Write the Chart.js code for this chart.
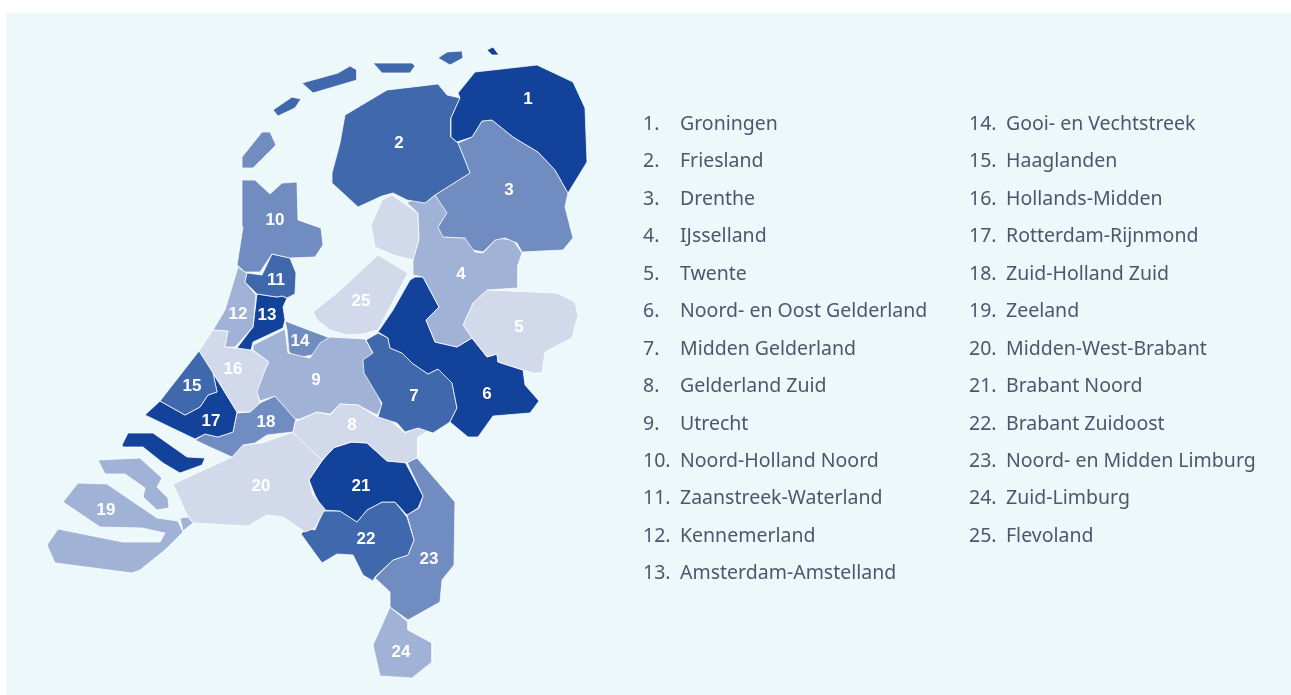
<!DOCTYPE html>
<html lang="nl">
<head>
  <meta charset="UTF-8" />
  <title>Regio's Nederland</title>
  <script src="https://cdn.jsdelivr.net/npm/chart.js"></script>
  <style>
    html, body { margin: 0; padding: 0; background: #fff; overflow: hidden; }
    #panel { position: absolute; left: 6px; top: 13px; width: 1285px; height: 682px; background: #ecf8f9; }
    #chart { position: absolute; left: 0; top: 0; }
    .col { position: absolute; top: 104px; margin: 0; padding: 0; list-style: none;
           font-family: 'Noto Sans', sans-serif; font-size: 19.5px; line-height: 37.45px; color: #4c566e; white-space: nowrap; }
    .col li { position: relative; height: 37.45px; }
    .col .nr { position: absolute; left: 0; }
    .col .name { position: absolute; left: 37px; }
  </style>
</head>
<body>
  <div id="panel"></div>
  <canvas id="chart" width="1291" height="695"></canvas>
  <ol class="col" id="colLeft" style="left:643px"></ol>
  <ol class="col" id="colRight" style="left:969px"></ol>

  <script>
    const regionNames = ["Groningen", "Friesland", "Drenthe", "IJsselland", "Twente",
      "Noord- en Oost Gelderland", "Midden Gelderland", "Gelderland Zuid", "Utrecht",
      "Noord-Holland Noord", "Zaanstreek-Waterland", "Kennemerland", "Amsterdam-Amstelland",
      "Gooi- en Vechtstreek", "Haaglanden", "Hollands-Midden", "Rotterdam-Rijnmond",
      "Zuid-Holland Zuid", "Zeeland", "Midden-West-Brabant", "Brabant Noord",
      "Brabant Zuidoost", "Noord- en Midden Limburg", "Zuid-Limburg", "Flevoland"];

    // klasse per regio (0 = donkerst, 4 = lichtst), in volgorde 1..25
    const regionClass = [0, 1, 2, 3, 4, 0, 1, 4, 3, 2, 1, 3, 0, 2, 1, 4, 0, 2, 3, 4, 0, 1, 2, 3, 4];
    const classColors = ["#12429a", "#3f69ac", "#708cc1", "#a0b2d6", "#d1d9ea"];

    const groningen = [[475,72],[537,65],[573,82],[585,108],[587,162],[568,193],[555,170],[538,152],[513,137],[492,120],[482,121],[472,137],[457,142],[451,137],[451,118],[460,98],[458,93]];
    const rottumeroog = [[487,50],[493,47],[499,55],[492,55]];
    const friesland = [[345,115],[387,90],[438,84],[447,95],[460,98],[451,118],[451,137],[458,143],[470,173],[435,195],[425,203],[407,200],[393,193],[382,196],[358,207],[332,183],[332,173],[340,143]];
    const vlieland = [[273,110],[292,97],[301,99],[295,108],[278,116]];
    const terschelling = [[302,83],[338,73],[350,66],[357,70],[357,80],[313,93]];
    const ameland = [[373,63],[412,63],[415,66],[410,73],[382,73]];
    const schiermonnikoog = [[438,58],[447,52],[462,51],[463,58],[450,65]];
    const drenthe = [[458,143],[472,137],[482,121],[492,120],[513,137],[538,152],[555,170],[568,193],[565,207],[573,238],[563,250],[522,252],[517,243],[505,238],[495,240],[483,252],[473,250],[465,238],[443,237],[438,227],[447,213],[435,195],[470,173]];
    const ijsselland = [[407,203],[413,199],[425,203],[435,195],[448,213],[439,225],[445,237],[467,238],[475,252],[483,253],[497,238],[513,240],[522,253],[518,265],[518,288],[487,290],[473,303],[463,325],[472,338],[457,347],[435,342],[426,320],[439,307],[423,277],[413,275],[413,260],[419,240],[418,213]];
    const twente = [[487,290],[557,293],[575,302],[578,315],[572,338],[545,352],[542,373],[533,373],[523,370],[498,362],[497,354],[487,357],[472,338],[463,325],[473,303]];
    const noordOostGelderland = [[415,277],[423,277],[439,307],[426,320],[435,342],[457,347],[472,338],[487,357],[497,354],[498,362],[523,370],[525,385],[539,401],[530,413],[493,416],[478,437],[468,437],[450,422],[457,408],[452,383],[438,369],[428,374],[412,363],[402,353],[390,348],[388,338],[378,332],[393,310],[410,280]];
    const middenGelderland = [[378,333],[388,338],[390,348],[402,353],[412,363],[428,374],[438,369],[452,383],[457,408],[450,422],[433,433],[418,428],[405,432],[397,423],[378,417],[382,403],[364,373],[363,360],[373,353],[366,340]];
    const gelderlandZuid = [[295,422],[317,412],[330,415],[340,404],[358,405],[377,417],[390,420],[405,433],[415,428],[430,430],[418,437],[418,457],[407,463],[387,461],[367,443],[350,442],[335,447],[322,460],[293,433]];
    const utrecht = [[253,345],[285,329],[288,353],[310,358],[320,343],[330,337],[365,339],[374,355],[365,360],[365,373],[372,380],[382,406],[377,415],[358,405],[340,404],[330,414],[317,412],[300,419],[295,419],[275,396],[260,401],[257,392],[265,370],[269,362],[253,350]];
    const noordHollandNoord = [[242,180],[255,180],[270,194],[282,183],[297,182],[298,220],[321,228],[323,245],[315,257],[290,258],[272,254],[260,272],[245,272],[237,265],[243,227]];
    const texel = [[242,168],[242,157],[262,132],[270,132],[276,145],[253,168]];
    const zaanstreek = [[272,254],[290,258],[296,273],[295,294],[287,298],[282,296],[277,297],[257,294],[245,282],[247,273],[262,275]];
    const kennemerland = [[238,267],[245,272],[247,273],[245,282],[256,295],[253,327],[235,347],[225,347],[228,331],[213,330],[225,310]];
    const amsterdam = [[257,294],[277,297],[282,296],[287,298],[283,307],[285,320],[283,328],[253,342],[251,350],[237,348],[253,327]];
    const gooi = [[285,321],[330,338],[312,355],[297,358],[289,352],[287,330]];
    const haaglanden = [[199,351],[213,373],[217,392],[208,395],[200,407],[185,415],[160,401]];
    const hollandsMidden = [[213,330],[228,331],[225,347],[237,348],[252,350],[269,362],[265,370],[264,380],[258,395],[260,403],[250,412],[237,412],[213,373],[199,351]];
    const rotterdam = [[145,415],[160,401],[185,415],[200,407],[208,395],[217,392],[213,373],[237,412],[233,432],[218,437],[205,434],[195,439]];
    const goeree = [[122,445],[128,433],[153,433],[187,457],[205,458],[202,465],[180,473],[163,463],[143,447],[123,447]];
    const zuidHollandZuid = [[195,440],[205,434],[218,437],[233,432],[237,413],[250,412],[260,403],[275,396],[296,419],[293,432],[267,435],[255,443],[243,445],[232,457],[212,448]];
    const schouwen = [[98,460],[140,458],[162,478],[157,487],[168,498],[169,508],[157,510],[143,497],[145,488],[125,474],[105,474]];
    const walcheren = [[63,502],[78,483],[107,484],[157,518],[178,521],[183,532],[165,550],[140,570],[132,573],[55,563],[47,545],[58,529],[123,542],[160,542],[165,533],[142,528],[100,527]];
    const zeelandOost = [[180,518],[188,517],[193,523],[183,531]];
    const middenWestBrabant = [[173,484],[232,457],[243,445],[262,443],[293,432],[322,460],[309,480],[313,495],[325,509],[315,528],[305,532],[283,517],[267,515],[248,526],[193,523],[187,515]];
    const brabantNoord = [[333,448],[352,442],[367,443],[387,461],[405,462],[423,496],[418,508],[407,515],[395,502],[382,502],[367,510],[357,522],[340,511],[323,510],[315,495],[309,480],[322,461]];
    const brabantZuidoost = [[301,534],[307,528],[315,530],[323,511],[340,511],[357,522],[367,510],[382,502],[395,502],[407,517],[414,540],[408,555],[393,560],[375,577],[373,581],[363,575],[353,555],[337,554],[322,563]];
    const noordMiddenLimburg = [[407,462],[417,458],[455,502],[454,565],[442,580],[440,602],[408,620],[390,607],[390,592],[375,578],[393,560],[408,555],[414,540],[407,515],[419,508],[423,496]];
    const zuidLimburg = [[390,607],[408,622],[408,630],[432,643],[432,662],[412,678],[380,676],[373,645]];
    const flevolandNoord = [[392,195],[418,213],[419,240],[413,260],[393,255],[375,247],[371,225],[382,200]];
    const flevolandZuid = [[378,255],[408,273],[378,330],[363,334],[347,335],[330,330],[317,320],[313,312],[337,293]];

    // regionummer -> stukken kaart
    const regionShapes = [
      [1, groningen], [1, rottumeroog], [2, friesland], [2, vlieland], [2, terschelling], [2, ameland], [2, schiermonnikoog],
      [3, drenthe], [4, ijsselland], [5, twente], [6, noordOostGelderland], [7, middenGelderland], [8, gelderlandZuid],
      [9, utrecht], [10, noordHollandNoord], [10, texel], [11, zaanstreek], [12, kennemerland], [13, amsterdam], [14, gooi],
      [15, haaglanden], [16, hollandsMidden], [17, rotterdam], [17, goeree], [18, zuidHollandZuid], [19, schouwen], [19, walcheren], [19, zeelandOost],
      [20, middenWestBrabant], [21, brabantNoord], [22, brabantZuidoost], [23, noordMiddenLimburg], [24, zuidLimburg], [25, flevolandNoord], [25, flevolandZuid]
    ];

    const labelX = [528, 399, 509, 461, 519, 487, 414, 352, 316, 275, 276, 238, 267, 300, 192, 233, 211, 266, 106, 261, 361, 366, 429, 401, 361];
    const labelY = [99, 143, 190, 274, 327, 394, 396, 425, 380, 220, 280, 314, 315, 341, 386, 369, 421, 422, 510, 486, 486, 539, 559, 652, 301];

    const datasets = regionShapes.map(([nr, pts]) => {
      const color = classColors[regionClass[nr - 1]];
      const closed = pts.concat([pts[0]]);
      return {
        label: regionNames[nr - 1],
        data: closed.map(p => ({ x: p[0], y: p[1] })),
        showLine: true,
        tension: 0,
        fill: 'shape',
        backgroundColor: color,
        borderColor: 'rgba(255,255,255,0.75)',
        borderWidth: 1,
        pointRadius: 0
      };
    });

    const numberLabels = {
      id: 'numberLabels',
      afterDatasetsDraw(chart) {
        const { ctx, scales } = chart;
        ctx.save();
        ctx.font = "bold 17px 'Liberation Sans', sans-serif";
        ctx.fillStyle = '#fff';
        ctx.textAlign = 'center';
        ctx.textBaseline = 'middle';
        labelX.forEach((x, i) => {
          ctx.fillText(String(i + 1), scales.x.getPixelForValue(x), scales.y.getPixelForValue(labelY[i]));
        });
        ctx.restore();
      }
    };

    new Chart(document.getElementById("chart").getContext("2d"), {
      type: 'scatter',
      data: { datasets },
      plugins: [numberLabels],
      options: {
        responsive: false,
        animation: false,
        layout: { padding: 0 },
        plugins: { legend: { display: false }, tooltip: { enabled: false } },
        scales: {
          x: { type: 'linear', display: false, min: 0, max: 1291 },
          y: { type: 'linear', display: false, min: 0, max: 695, reverse: true }
        }
      }
    });

    // lijst rechts van de kaart
    regionNames.forEach((name, i) => {
      const li = document.createElement('li');
      li.innerHTML = `<span class="nr">${i + 1}.</span><span class="name">${name}</span>`;
      document.getElementById(i < 13 ? 'colLeft' : 'colRight').appendChild(li);
    });
  </script>
</body>
</html>
